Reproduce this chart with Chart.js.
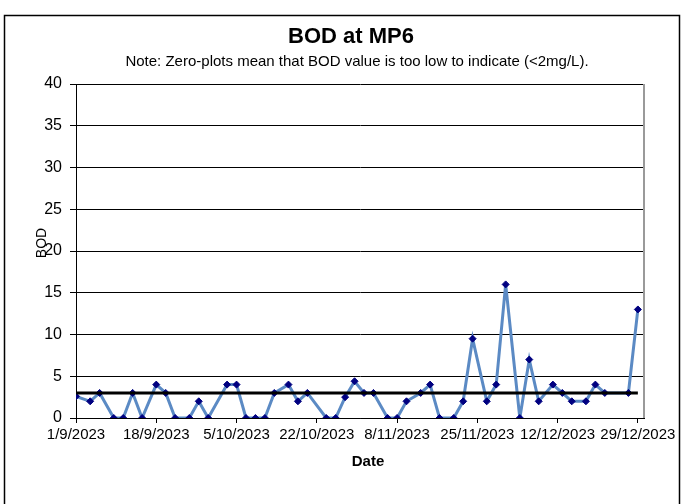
<!DOCTYPE html>
<html>
<head>
<meta charset="UTF-8">
<title>BOD at MP6</title>
<script src="https://cdn.jsdelivr.net/npm/chart.js"></script>
<style>
  html, body { margin: 0; padding: 0; background: #fff; }
</style>
</head>
<body>
<canvas id="bodChart" width="684" height="504"></canvas>
<script>
// sampling dates (d/m/yyyy) and BOD readings in mg/L, 0 = below detection
const sampleDates = [
  '1/9/2023', '4/9/2023', '6/9/2023', '9/9/2023', '11/9/2023', '13/9/2023', '15/9/2023',
  '18/9/2023', '20/9/2023', '22/9/2023', '25/9/2023', '27/9/2023', '29/9/2023',
  '3/10/2023', '5/10/2023', '7/10/2023', '9/10/2023', '11/10/2023', '13/10/2023',
  '16/10/2023', '18/10/2023', '20/10/2023', '24/10/2023', '26/10/2023', '28/10/2023',
  '30/10/2023', '1/11/2023', '3/11/2023', '6/11/2023', '8/11/2023', '10/11/2023',
  '13/11/2023', '15/11/2023', '17/11/2023', '20/11/2023', '22/11/2023', '24/11/2023',
  '27/11/2023', '29/11/2023', '1/12/2023', '4/12/2023', '6/12/2023', '8/12/2023',
  '11/12/2023', '13/12/2023', '15/12/2023', '18/12/2023', '20/12/2023', '22/12/2023',
  '27/12/2023', '29/12/2023'
];
const bodValues = [
  2.6, 2, 3, 0, 0, 3, 0,
  4, 3, 0, 0, 2, 0,
  4, 4, 0, 0, 0, 3,
  4, 2, 3, 0, 0, 2.5,
  4.4, 3, 3, 0, 0, 2,
  3, 4, 0, 0, 2, 9.5,
  2, 4, 16, 0, 7, 2,
  4, 3, 2, 2, 4, 3,
  3, 13
];
const tickLabels = ['1/9/2023', '18/9/2023', '5/10/2023', '22/10/2023', '8/11/2023', '25/11/2023', '12/12/2023', '29/12/2023'];
const limitValue = 3;
const limitDates = ['1/9/2023', '29/12/2023'];

const startDay = Date.UTC(2023, 8, 1);
function dayOf(s) {
  const p = s.split('/').map(Number);
  return (Date.UTC(p[2], p[1] - 1, p[0]) - startDay) / 86400000;
}
const tickDays = tickLabels.map(dayOf);

const bodPoints = sampleDates.map((d, i) => ({ x: dayOf(d), y: bodValues[i] }));
const limitPoints = limitDates.map(d => ({ x: dayOf(d), y: limitValue }));

// titles, axis captions and the outer frame
const decorations = {
  id: 'decorations',
  afterDraw(chart) {
    const ctx = chart.ctx;
    const area = chart.chartArea;
    ctx.save();
    ctx.strokeStyle = '#000';
    ctx.lineWidth = 1.5;
    ctx.beginPath();
    ctx.moveTo(4.5, 510);
    ctx.lineTo(4.5, 15.5);
    ctx.lineTo(679.5, 15.5);
    ctx.lineTo(679.5, 510);
    ctx.stroke();

    ctx.strokeStyle = '#9a9a9a';
    ctx.lineWidth = 2;
    ctx.beginPath();
    ctx.moveTo(area.right, area.top);
    ctx.lineTo(area.right, area.bottom);
    ctx.stroke();

    ctx.fillStyle = '#000';
    ctx.textAlign = 'center';
    ctx.textBaseline = 'middle';
    ctx.font = 'bold 22px "Liberation Sans", Arial, sans-serif';
    ctx.fillText('BOD at MP6', 351, 37);
    ctx.font = '15px "Liberation Sans", Arial, sans-serif';
    ctx.fillText('Note: Zero-plots mean that BOD value is too low to indicate (<2mg/L).', 357, 62);
    ctx.font = 'bold 15px "Liberation Sans", Arial, sans-serif';
    ctx.fillText('Date', 368, 462);

    ctx.translate(42, 243);
    ctx.rotate(-Math.PI / 2);
    ctx.font = '14px "Liberation Sans", Arial, sans-serif';
    ctx.fillText('BOD', 0, 0);
    ctx.restore();
  }
};

new Chart(document.getElementById('bodChart'), {
  type: 'line',
  data: {
    datasets: [
      {
        label: 'Limit',
        data: limitPoints,
        borderColor: '#000',
        borderWidth: 3,
        pointRadius: 0,
        fill: false
      },
      {
        label: 'BOD',
        data: bodPoints,
        borderColor: '#5b8ac4',
        borderWidth: 3,
        pointStyle: 'rectRot',
        pointRadius: 3.5,
        pointBackgroundColor: '#000080',
        pointBorderColor: '#000080',
        pointBorderWidth: 1,
        tension: 0,
        fill: false
      }
    ]
  },
  options: {
    responsive: false,
    animation: false,
    layout: { padding: { top: 84, right: 40, bottom: 0, left: 0 } },
    plugins: {
      legend: { display: false },
      tooltip: { enabled: false },
      title: { display: false }
    },
    scales: {
      x: {
        type: 'linear',
        min: 0,
        max: 120.3,
        afterBuildTicks(scale) {
          scale.ticks = tickDays.map(v => ({ value: v }));
        },
        afterFit(scale) { scale.height = 86; },
        ticks: {
          autoSkip: false,
          maxRotation: 0,
          minRotation: 0,
          padding: 3,
          color: '#000',
          font: { family: '"Liberation Sans", Arial, sans-serif', size: 15 },
          callback: v => tickLabels[tickDays.indexOf(v)]
        },
        grid: { drawOnChartArea: false, drawTicks: true, tickLength: 5, color: '#000' },
        border: { display: true, color: '#000', width: 1 }
      },
      y: {
        min: 0,
        max: 40,
        afterFit(scale) { scale.width = 76; },
        ticks: {
          stepSize: 5,
          padding: 8,
          color: '#000',
          font: { family: '"Liberation Sans", Arial, sans-serif', size: 16 }
        },
        grid: { color: '#000', lineWidth: 1, tickLength: 6 },
        border: { display: true, color: '#000', width: 1 }
      }
    }
  },
  plugins: [decorations]
});
</script>
</body>
</html>
